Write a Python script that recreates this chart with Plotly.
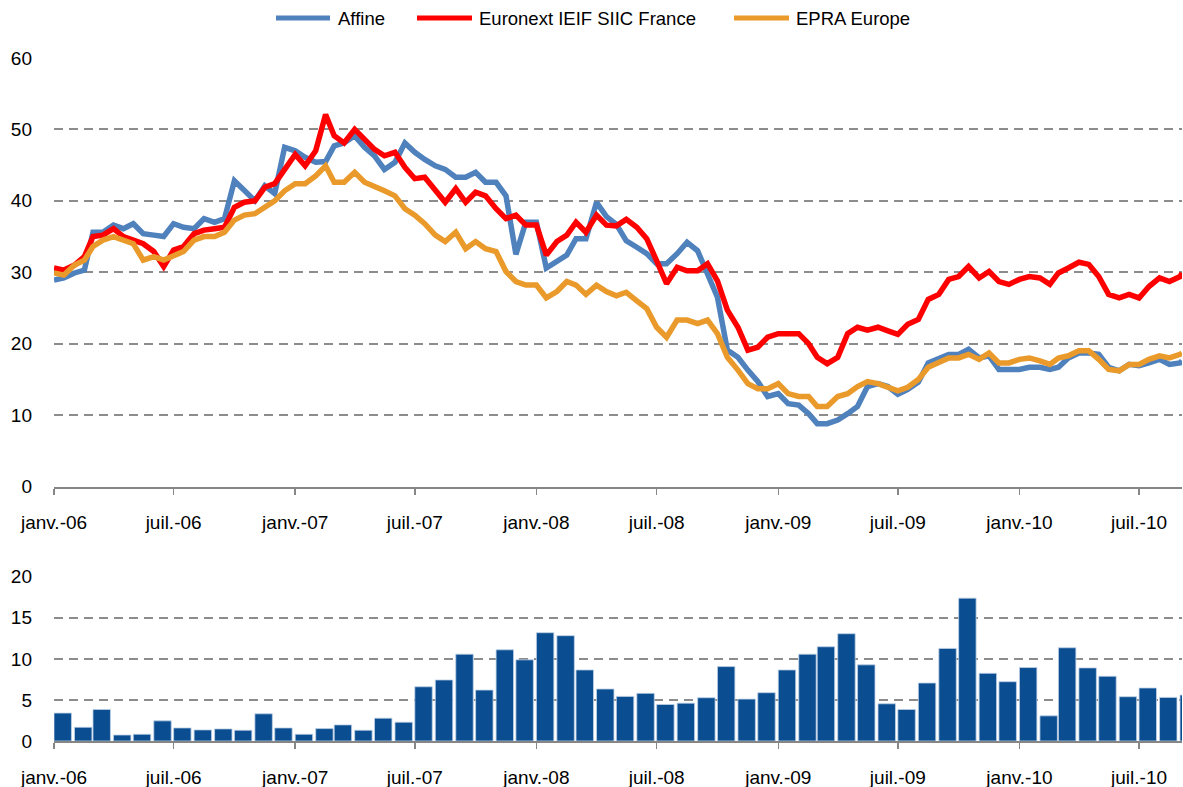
import datetime as dt
import plotly.graph_objects as go

# ---------------- data ----------------
# Half-monthly observations: 1st and 16th of each month, Jan 2006 -> Sep 2010, plus last day
affine = [
    28.9, 29.2, 29.9, 30.3, 35.6, 35.6, 36.6, 36.1, 36.8, 35.4, 35.2, 35.0,
    36.8, 36.3, 36.1, 37.5, 37.0, 37.5, 42.8, 41.4, 40.0, 42.1, 41.0, 47.5,
    47.0, 46.1, 45.4, 45.5, 47.7, 48.1, 49.1, 47.5, 46.3, 44.4, 45.4, 48.1,
    46.8, 45.8, 44.9, 44.4, 43.3, 43.3, 44.0, 42.6, 42.6, 40.7, 32.5, 37.0,
    37.0, 30.6, 31.5, 32.4, 34.7, 34.7, 39.8, 37.8, 36.7, 34.4, 33.5, 32.6,
    31.2, 31.2, 32.6, 34.2, 33.0, 29.8, 26.5, 19.1, 18.1, 16.3, 14.7, 12.6,
    13.0, 11.6, 11.4, 10.2, 8.8, 8.8, 9.3, 10.2, 11.2, 14.0, 14.4, 14.0,
    12.9, 13.6, 14.6, 17.3, 18.0, 18.5, 18.5, 19.2, 18.0, 18.3, 16.4, 16.4,
    16.4, 16.7, 16.7, 16.4, 16.7, 18.0, 18.7, 18.7, 18.5, 16.7, 16.2, 17.1,
    16.9, 17.3, 17.8, 17.1, 17.3, 17.6,
]
euronext = [
    30.6, 30.3, 31.0, 32.2, 35.0, 35.2, 36.1, 35.0, 34.5, 34.0, 32.9, 30.8,
    33.1, 33.6, 35.4, 35.9, 36.1, 36.3, 39.1, 39.8, 40.0, 41.9, 42.4, 44.4,
    46.5, 44.9, 47.0, 52.1, 49.1, 48.1, 50.0, 48.6, 47.2, 46.3, 46.8, 44.7,
    43.1, 43.3, 41.4, 39.8, 41.7, 39.8, 41.2, 40.7, 38.9, 37.5, 38.0, 36.6,
    36.6, 32.4, 34.3, 35.2, 37.0, 35.6, 38.0, 36.6, 36.5, 37.4, 36.3, 34.7,
    31.6, 28.4, 30.7, 30.2, 30.2, 31.2, 28.8, 24.7, 22.3, 19.1, 19.5, 20.9,
    21.4, 21.4, 21.4, 20.0, 18.1, 17.2, 18.1, 21.4, 22.3, 21.9, 22.3, 21.8,
    21.3, 22.7, 23.4, 26.2, 26.9, 29.0, 29.4, 30.8, 29.2, 30.1, 28.7, 28.3,
    29.0, 29.4, 29.2, 28.3, 29.9, 30.6, 31.4, 31.1, 29.4, 26.9, 26.4, 26.9,
    26.4, 28.0, 29.2, 28.7, 29.4, 29.9,
]
epra = [
    29.9, 29.6, 31.0, 31.7, 33.6, 34.5, 35.0, 34.5, 34.0, 31.7, 32.2, 31.7,
    32.4, 32.9, 34.5, 35.0, 35.0, 35.6, 37.3, 38.0, 38.2, 39.1, 40.0, 41.4,
    42.4, 42.4, 43.5, 44.9, 42.6, 42.6, 44.0, 42.6, 41.9, 41.4, 40.7, 38.9,
    38.0, 36.8, 35.2, 34.3, 35.6, 33.3, 34.3, 33.3, 32.9, 30.1, 28.7, 28.2,
    28.2, 26.4, 27.3, 28.7, 28.2, 26.9, 28.2, 27.3, 26.7, 27.2, 26.0, 24.9,
    22.3, 20.9, 23.3, 23.3, 22.8, 23.3, 21.4, 18.1, 16.3, 14.4, 13.7, 13.7,
    14.4, 13.0, 12.6, 12.6, 11.2, 11.2, 12.6, 13.0, 14.0, 14.7, 14.4, 13.9,
    13.4, 13.9, 15.0, 16.7, 17.3, 18.0, 18.0, 18.5, 17.8, 18.7, 17.3, 17.3,
    17.8, 18.0, 17.6, 17.1, 18.0, 18.3, 19.0, 19.0, 17.8, 16.4, 16.2, 17.1,
    17.1, 17.8, 18.3, 18.0, 18.5, 18.7,
]
# Monthly volume bars, Jan 2006 -> Sep 2010
volumes = [
    3.4, 1.67, 3.84, 0.73, 0.82, 2.45, 1.59, 1.35, 1.47, 1.31, 3.31, 1.59,
    0.82, 1.51, 1.96, 1.31, 2.78, 2.29, 6.6, 7.43, 10.57, 6.2, 11.1, 9.88,
    13.18, 12.82, 8.65, 6.33, 5.43, 5.8, 4.45, 4.61, 5.27, 9.06, 5.1, 5.88,
    8.65, 10.57, 11.47, 13.06, 9.27, 4.53, 3.84, 7.06, 11.27, 17.39, 8.24, 7.22,
    8.94, 3.06, 11.35, 8.9, 7.88, 5.39, 6.45, 5.31, 5.6,
]
tick_dates = ["2006-01-01", "2006-07-01", "2007-01-01", "2007-07-01", "2008-01-01",
              "2008-07-01", "2009-01-01", "2009-07-01", "2010-01-01", "2010-07-01"]
tick_labels = ["janv.-06", "juil.-06", "janv.-07", "juil.-07", "janv.-08",
               "juil.-08", "janv.-09", "juil.-09", "janv.-10", "juil.-10"]
series_names = ["Affine", "Euronext IEIF SIIC France", "EPRA Europe"]
series_colors = ["#4F81BD", "#FF0000", "#EA9A2B"]
bar_color = "#0A4E91"

# ---------------- dates ----------------
months = [(2006 + i // 12, i % 12 + 1) for i in range(len(volumes))]
line_dates = []
for k, (y, m) in enumerate(months):
    line_dates.append(dt.date(y, m, 1))
    if k < len(months) - 1:
        line_dates.append(dt.date(y, m, 16))
line_dates.append(dt.date(2010, 9, 4))
bar_dates = [dt.datetime(y, m, 1) + dt.timedelta(days=13, hours=5) for (y, m) in months]
bar_width_ms = 26.4 * 86400000

x_range = ["2006-01-01", "2010-09-04"]

# ---------------- figure ----------------
fig = go.Figure()
for name, vals, col in zip(series_names, [affine, euronext, epra], series_colors):
    fig.add_trace(go.Scatter(x=line_dates, y=vals, mode="lines", name=name,
                             line=dict(color=col, width=5.5), xaxis="x", yaxis="y",
                             showlegend=False))
fig.add_trace(go.Bar(x=bar_dates, y=volumes, width=bar_width_ms, xaxis="x2", yaxis="y2",
                     marker=dict(color=bar_color, line=dict(color="#BFD0E6", width=0.8)),
                     showlegend=False, name="Volume"))

W, H = 1183, 787
ml, mr, mt, mb = 54, 1, 58, 46
pw, ph = W - ml - mr, H - mt - mb
top_dom = [(H - mb - 486.5) / ph, 1.0]
bot_dom = [0.0, (H - mb - 576.7) / ph]

tick_font = dict(size=19, color="#000000")
axis_common = dict(type="date", range=x_range, tickvals=tick_dates, ticktext=tick_labels,
                   showline=True, linecolor="#868686", linewidth=2, ticks="outside",
                   ticklen=6, tickwidth=1.5, tickcolor="#868686", showgrid=False,
                   zeroline=False, ticklabelstandoff=12, automargin=False,
                   tickfont=tick_font)
grid_common = dict(showgrid=True, gridcolor="#8C8C8C", gridwidth=2, griddash="9px,6px",
                   zeroline=False, showline=False, ticks="", ticklabelstandoff=21,
                   automargin=False, tickfont=tick_font)

fig.update_layout(
    width=W, height=H,
    margin=dict(l=ml, r=mr, t=mt, b=mb, autoexpand=False),
    paper_bgcolor="white", plot_bgcolor="white",
    font=dict(family="Liberation Sans, Arial, sans-serif", size=18, color="#000000"),
    xaxis=dict(domain=[0, 1], anchor="y", **axis_common),
    xaxis2=dict(domain=[0, 1], anchor="y2", **axis_common),
    yaxis=dict(domain=top_dom, range=[0, 60], tickvals=[0, 10, 20, 30, 40, 50, 60],
               anchor="x", **grid_common),
    yaxis2=dict(domain=bot_dom, range=[0, 20], tickvals=[0, 5, 10, 15, 20],
                anchor="x2", **grid_common),
    bargap=0,
    hovermode=False,
)

# ---------------- legend (drawn as shapes + text) ----------------
leg_y = (H - mb - 18) / ph
leg_items = [(276, 330, 336), (417, 472, 477), (734, 789, 794)]
for (x0, x1, xt), name, col in zip(leg_items, series_names, series_colors):
    fig.add_shape(type="line", xref="paper", yref="paper",
                  x0=(x0 - ml) / pw, x1=(x1 - ml) / pw, y0=leg_y, y1=leg_y,
                  line=dict(color=col, width=5))
    fig.add_annotation(text=name, xref="paper", yref="paper", x=(xt - ml) / pw, y=leg_y,
                       xanchor="left", yanchor="middle", showarrow=False,
                       font=dict(size=18.5, color="#000000"))

fig.write_html("out.html",
               config={"displayModeBar": False, "staticPlot": True},
               post_script="document.body.style.margin='0';document.body.style.overflow='hidden';")
